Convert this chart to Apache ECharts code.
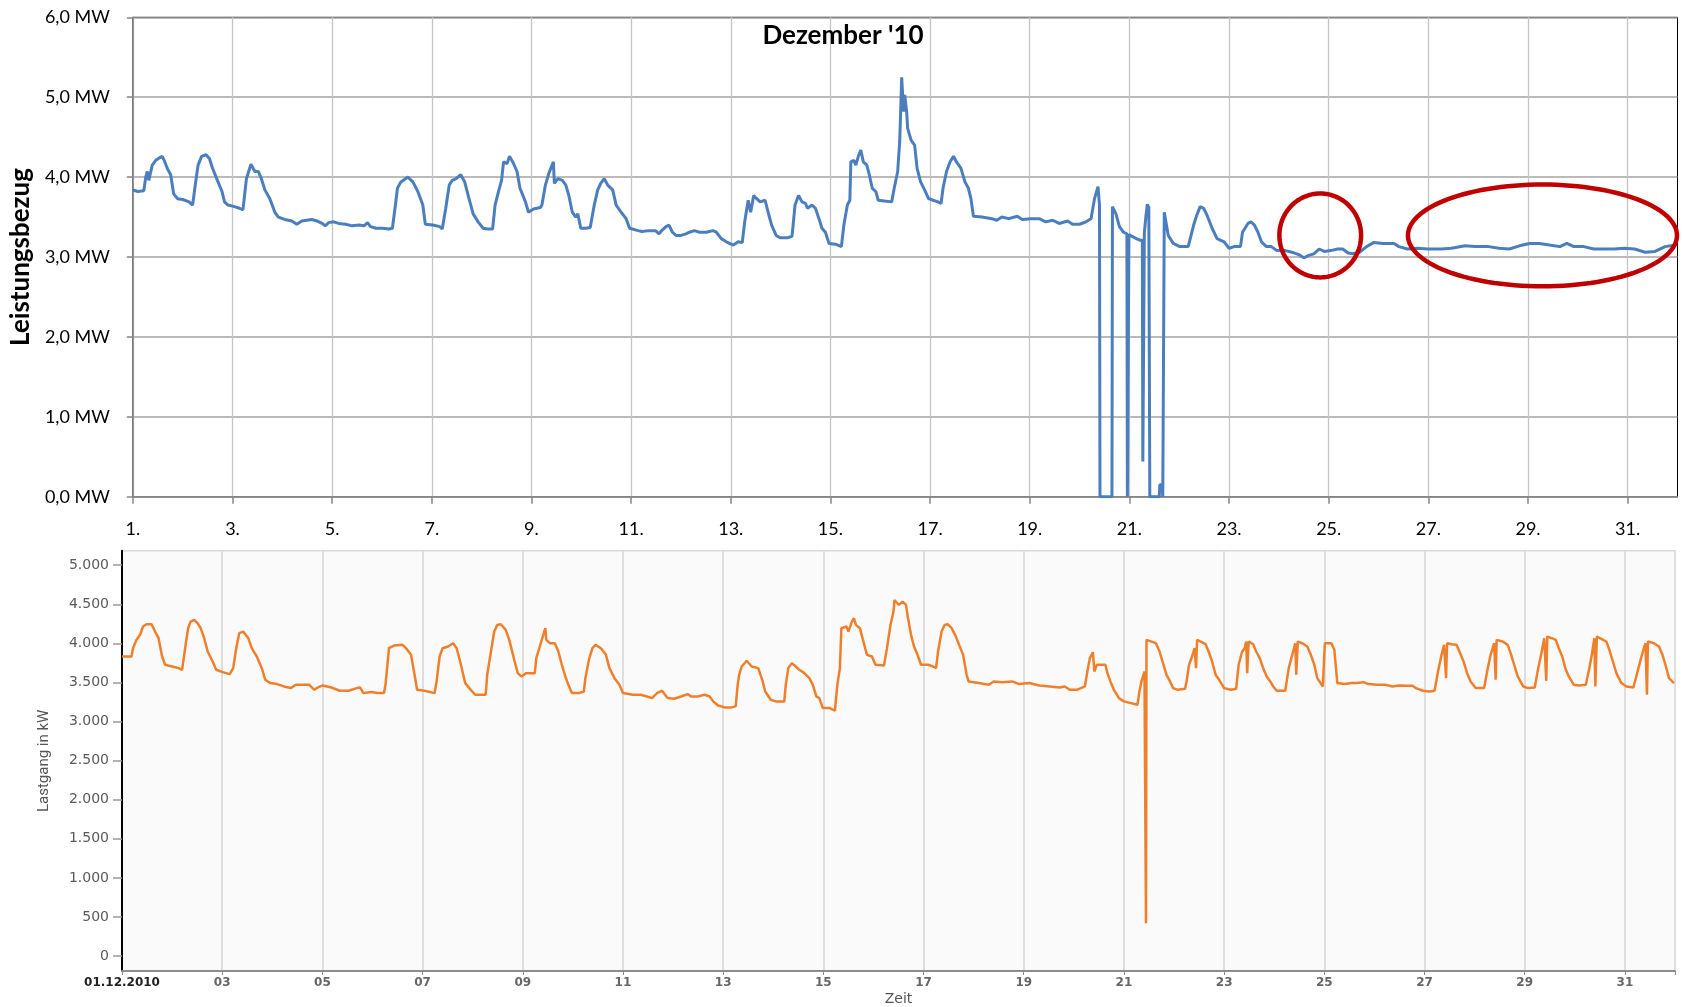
<!DOCTYPE html>
<html><head><meta charset="utf-8">
<script src="https://cdn.jsdelivr.net/npm/echarts@6/dist/echarts.min.js"></script>
<style>html,body{margin:0;padding:0;background:#fff}#c{width:1685px;height:1007px}</style>
</head><body><div id="c"></div>
<script>
// ---------- data ----------
const oddDays = [1,3,5,7,9,11,13,15,17,19,21,23,25,27,29,31];
const mwTicks = [0,1,2,3,4,5,6];
const kwTicks = [0,500,1000,1500,2000,2500,3000,3500,4000,4500,5000];

// Top chart: Leistungsbezug in MW, [day of December, MW]
const topLoadA = [[1.00,3.84],[1.10,3.82],[1.22,3.83],[1.26,4.00],[1.29,4.07],[1.32,3.96],[1.39,4.15],[1.46,4.21],[1.53,4.24],[1.59,4.26],[1.63,4.21],[1.69,4.11],[1.76,4.03],[1.82,3.79],[1.90,3.73],[2.00,3.72],[2.13,3.69],[2.20,3.65],
[2.27,3.98],[2.31,4.15],[2.38,4.26],[2.47,4.28],[2.54,4.23],[2.60,4.11],[2.71,3.94],[2.79,3.82],[2.84,3.69],[2.91,3.65],[3.04,3.63],[3.14,3.61],[3.21,3.59],
[3.28,3.98],[3.37,4.16],[3.45,4.07],[3.52,4.07],[3.58,3.98],[3.65,3.84],[3.75,3.73],[3.85,3.56],[3.92,3.50],[4.05,3.47],[4.19,3.45],[4.29,3.41],[4.39,3.45],[4.49,3.46],[4.59,3.47],[4.70,3.45],[4.80,3.42],[4.86,3.39],[4.93,3.43],[5.03,3.44],[5.13,3.42],[5.27,3.41],[5.40,3.39],[5.54,3.40],[5.64,3.39],[5.71,3.43],[5.77,3.38],[5.88,3.36],[6.01,3.36],[6.14,3.35],[6.21,3.36],
[6.27,3.65],[6.31,3.86],[6.38,3.94],[6.52,4.00],[6.62,3.94],[6.72,3.82],[6.82,3.65],[6.87,3.41],[7.02,3.40],[7.16,3.38],[7.21,3.35],
[7.28,3.61],[7.35,3.90],[7.41,3.96],[7.49,3.98],[7.58,4.03],[7.66,3.94],[7.73,3.77],[7.83,3.54],[7.93,3.44],[8.03,3.36],[8.13,3.35],[8.22,3.35],
[8.27,3.65],[8.34,3.82],[8.40,3.96],[8.44,4.19],[8.51,4.17],[8.56,4.26],[8.64,4.17],[8.71,4.07],[8.77,3.86],[8.88,3.69],[8.94,3.56],[9.04,3.60],[9.18,3.62],[9.21,3.65],
[9.28,3.90],[9.35,4.05],[9.44,4.19],[9.46,3.92],[9.53,3.98],[9.62,3.96],[9.69,3.90],[9.75,3.77],[9.82,3.56],[9.89,3.50],[9.93,3.54],[9.99,3.36],[10.09,3.36],[10.18,3.37],
[10.26,3.65],[10.33,3.84],[10.39,3.92],[10.46,3.98],[10.53,3.90],[10.63,3.84],[10.70,3.65],[10.80,3.56],[10.90,3.48],[10.97,3.36],[11.14,3.33]];
const topLoadB = [[11.22,3.32],[11.36,3.33],[11.49,3.33],[11.56,3.29],[11.63,3.34],[11.70,3.38],[11.76,3.40],[11.83,3.31],[11.90,3.27],[12.00,3.27],[12.10,3.29],[12.17,3.31],[12.27,3.33],[12.37,3.31],[12.51,3.31],[12.64,3.33],[12.71,3.31],[12.81,3.23],[12.91,3.19],[13.05,3.15],[13.15,3.19],[13.23,3.18],
[13.28,3.44],[13.35,3.71],[13.40,3.56],[13.46,3.77],[13.52,3.73],[13.59,3.69],[13.69,3.71],[13.75,3.56],[13.82,3.40],[13.91,3.27],[13.99,3.24],[14.13,3.24],[14.23,3.26],
[14.29,3.65],[14.36,3.77],[14.43,3.69],[14.50,3.67],[14.54,3.61],[14.63,3.65],[14.70,3.61],[14.77,3.48],[14.83,3.36],[14.90,3.31],[14.97,3.17],[15.10,3.16],[15.22,3.13],
[15.27,3.40],[15.34,3.65],[15.39,3.71],[15.41,4.19],[15.47,4.21],[15.51,4.15],[15.56,4.26],[15.61,4.34],[15.66,4.19],[15.73,4.15],[15.78,4.03],[15.84,3.86],[15.91,3.82],[15.96,3.71],[16.08,3.70],[16.23,3.69],
[16.28,3.86],[16.35,4.07],[16.39,4.44],[16.41,4.82],[16.43,5.25],[16.47,4.82],[16.49,5.03],[16.53,4.82],[16.55,4.61],[16.62,4.46],[16.69,4.40],[16.74,4.11],[16.81,3.94],[16.89,3.84],[16.97,3.73],[17.06,3.71],[17.16,3.69],[17.22,3.67],
[17.26,3.86],[17.33,4.07],[17.40,4.19],[17.47,4.26],[17.53,4.19],[17.62,4.11],[17.70,3.94],[17.77,3.86],[17.82,3.73],[17.87,3.51],[18.04,3.50],[18.24,3.48],[18.34,3.46],[18.44,3.50],[18.58,3.48],[18.75,3.51],[18.85,3.47],[19.02,3.48],[19.19,3.48],[19.32,3.44],[19.46,3.46],[19.59,3.42],[19.76,3.45],[19.86,3.41],[20.00,3.41],[20.13,3.44],[20.23,3.48],
[20.30,3.73],[20.37,3.88],[20.40,3.65]];
const topLoadC = [[20.41,0],[20.65,0],[20.66,3.63],[20.73,3.54],[20.80,3.38],[20.88,3.31],[20.95,3.29],[20.96,0],[20.98,0],[20.99,3.28],[21.03,3.27],[21.14,3.23],[21.21,3.21],[21.26,3.21],[21.27,0.44],[21.30,3.30],[21.33,3.50],[21.36,3.66],[21.39,3.62],[21.41,0],[21.60,0],[21.61,0.15],[21.66,0.15],[21.67,0],[21.68,1.17],[21.70,3.56]];
const topLoadD = [[21.78,3.27],[21.88,3.17],[22.01,3.13],[22.18,3.13],[22.29,3.40],[22.35,3.52],[22.42,3.63],[22.49,3.61],[22.56,3.52],[22.66,3.36],[22.76,3.23],[22.90,3.19],[23.00,3.11],[23.10,3.13],[23.23,3.13],
[23.27,3.31],[23.38,3.42],[23.44,3.44],[23.51,3.40],[23.58,3.31],[23.65,3.19],[23.75,3.13],[23.85,3.13],[23.96,3.08],[24.13,3.08],[24.26,3.06],[24.40,3.03],[24.50,2.99],[24.60,3.02],[24.70,3.04],[24.81,3.10],[24.91,3.07],[25.04,3.08],[25.18,3.10],[25.28,3.10],[25.39,3.05],[25.49,3.04],[25.62,3.06],[25.76,3.13],[25.90,3.18],[26.10,3.17],[26.31,3.17],[26.41,3.13],[26.58,3.10],[26.78,3.11],[26.99,3.10],[27.26,3.10],[27.46,3.11],[27.74,3.14],[27.94,3.13],[28.21,3.13],[28.42,3.11],[28.62,3.10],[28.83,3.14],[29.03,3.17],[29.23,3.17],[29.43,3.15],[29.64,3.13],[29.78,3.17],[29.92,3.13],[30.12,3.13],[30.32,3.10],[30.53,3.10],[30.73,3.10],[30.94,3.11],[31.14,3.10],[31.35,3.06],[31.55,3.07],[31.75,3.13],[31.96,3.15],[31.99,3.16]];

// Bottom chart: Lastgang in kW, [day of December, kW]
const bottomLoadA = [[1.00,3832],[1.19,3832],[1.22,3938],[1.29,4045],[1.36,4109],[1.42,4215],[1.49,4245],[1.59,4245],[1.66,4151],[1.73,4066],[1.80,3832],[1.86,3726],[2.00,3704],[2.13,3683],[2.20,3662],
[2.27,3981],[2.32,4194],[2.37,4279],[2.44,4300],[2.51,4257],[2.57,4194],[2.64,4066],[2.71,3896],[2.81,3768],[2.88,3662],[3.01,3632],[3.15,3606],[3.22,3683],
[3.28,3938],[3.34,4130],[3.42,4151],[3.52,4066],[3.59,3938],[3.69,3832],[3.79,3683],[3.86,3534],[3.96,3492],[4.10,3479],[4.23,3449],[4.37,3428],[4.47,3470],[4.60,3470],[4.74,3470],[4.84,3406],[4.91,3436],[5.01,3462],[5.18,3436],[5.35,3394],[5.52,3394],[5.69,3428],[5.75,3436],[5.82,3364],[5.99,3377],[6.09,3364],[6.23,3364],
[6.26,3470],[6.33,3938],[6.43,3972],[6.60,3981],[6.67,3938],[6.77,3853],[6.84,3598],[6.89,3406],[7.04,3394],[7.24,3364],
[7.28,3513],[7.34,3832],[7.40,3938],[7.51,3960],[7.61,4002],[7.68,3938],[7.75,3768],[7.85,3492],[7.99,3385],[8.05,3343],[8.26,3343],
[8.29,3598],[8.36,3874],[8.43,4151],[8.49,4236],[8.56,4245],[8.66,4172],[8.73,4045],[8.83,3789],[8.90,3619],[8.97,3577],[9.07,3619],[9.24,3619],
[9.27,3811],[9.34,3960],[9.41,4109],[9.45,4194],[9.47,4045],[9.54,4002],[9.64,4002],[9.71,3896],[9.78,3726],[9.85,3577],[9.91,3470],[9.98,3364],[10.12,3364],[10.22,3385],
[10.25,3555],[10.32,3789],[10.39,3938],[10.45,3981],[10.56,3938],[10.66,3853],[10.73,3683],[10.83,3555],[10.93,3470],[11.00,3364],[11.20,3343]];
const bottomLoadB = [[11.35,3343],[11.48,3321],[11.58,3300],[11.68,3364],[11.78,3394],[11.89,3300],[12.02,3292],[12.16,3321],[12.29,3351],[12.36,3321],[12.49,3321],[12.63,3343],[12.73,3321],[12.80,3258],[12.90,3206],[13.03,3181],[13.17,3181],[13.25,3194],
[13.29,3470],[13.32,3598],[13.37,3704],[13.47,3777],[13.57,3704],[13.70,3683],[13.78,3534],[13.84,3385],[13.95,3279],[14.05,3258],[14.22,3258],
[14.25,3470],[14.30,3683],[14.37,3747],[14.45,3704],[14.52,3662],[14.62,3619],[14.72,3555],[14.79,3470],[14.86,3321],[14.92,3300],[14.99,3172],[15.13,3172],[15.23,3138],
[15.28,3470],[15.33,3683],[15.36,4194],[15.46,4215],[15.50,4151],[15.57,4279],[15.61,4321],[15.65,4236],[15.73,4194],[15.80,4023],[15.87,3853],[15.97,3832],[16.04,3726],[16.21,3717],
[16.27,3938],[16.34,4236],[16.40,4406],[16.42,4555],[16.51,4491],[16.58,4534],[16.65,4491],[16.69,4321],[16.75,4109],[16.81,3960],[16.88,3853],[16.95,3726],[17.09,3726],[17.19,3704],[17.25,3683],
[17.29,3896],[17.36,4151],[17.42,4236],[17.48,4245],[17.56,4194],[17.63,4109],[17.71,3981],[17.79,3853],[17.86,3598],[17.90,3513],[18.10,3492],[18.30,3470],[18.40,3513],[18.57,3504],[18.77,3513],[18.91,3479],[19.11,3492],[19.31,3462],[19.52,3449],[19.72,3436],[19.82,3449],[19.92,3406],[20.06,3406],[20.22,3449],
[20.27,3640],[20.32,3811],[20.38,3887],[20.41,3640],[20.46,3726],[20.56,3726],[20.63,3726],[20.67,3619],[20.73,3513],[20.80,3406],[20.90,3300],[21.00,3258],[21.14,3236],[21.27,3215],
[21.31,3385],[21.35,3513],[21.41,3640],[21.43,3640],[21.44,420],[21.45,4045],[21.58,4015],[21.64,4002]];
const bottomLoadC = [[21.71,3896],[21.78,3747],[21.85,3598],[21.92,3513],[21.98,3428],[22.08,3406],[22.22,3419],[22.25,3513],
[22.30,3726],[22.36,3832],[22.41,3938],[22.44,3683],[22.46,4045],[22.53,4023],[22.63,3989],[22.69,3896],[22.76,3768],[22.83,3598],[22.90,3534],[23.00,3428],[23.14,3406],[23.24,3419],
[23.29,3726],[23.36,3896],[23.41,3938],[23.44,4023],[23.46,3619],[23.49,4023],[23.58,3989],[23.64,3896],[23.71,3811],[23.78,3683],[23.85,3577],[23.92,3513],[23.98,3449],[24.05,3394],[24.22,3394],
[24.29,3683],[24.36,3853],[24.42,4002],[24.44,3598],[24.47,4023],[24.56,4002],[24.66,3960],[24.73,3853],[24.80,3726],[24.86,3555],[24.97,3449],[25.00,3449],
[25.01,4002],[25.14,4002],[25.20,3917],[25.26,3492],[25.41,3479],[25.54,3492],[25.64,3492],[25.78,3504],[25.88,3479],[26.05,3470],[26.22,3470],[26.36,3449],[26.49,3462],[26.63,3457],[26.76,3457],[26.83,3428],[26.97,3394],[27.10,3385],[27.20,3394],
[27.27,3640],[27.34,3853],[27.39,3981],[27.43,3555],[27.45,4002],[27.54,3989],[27.64,3981],[27.71,3874],[27.78,3768],[27.85,3619],[27.92,3513],[28.02,3428],[28.19,3428],
[28.25,3640],[28.32,3853],[28.39,4002],[28.42,3534],[28.44,4045],[28.56,4023],[28.66,3981],[28.73,3853],[28.80,3704],[28.86,3577],[28.97,3449],[29.07,3428],[29.20,3436],
[29.27,3683],[29.34,3896],[29.39,4066],[29.43,3521],[29.45,4087],[29.54,4066],[29.62,4045],[29.68,3938],[29.75,3832],[29.81,3683],[29.88,3577],[29.98,3470],[30.08,3462],[30.22,3470],
[30.29,3683],[30.34,3853],[30.39,4066],[30.41,3449],[30.44,4087],[30.53,4057],[30.63,4023],[30.69,3917],[30.76,3768],[30.83,3619],[30.93,3492],[31.03,3449],[31.17,3436],
[31.27,3683],[31.34,3853],[31.41,4002],[31.44,3343],[31.46,4023],[31.58,4002],[31.68,3960],[31.75,3853],[31.81,3726],[31.88,3555],[31.98,3492]];

// Red annotation ellipses (in data units of the top chart)
const annotations = [
  {day: 24.83, mw: 3.27, halfDays: 0.82, halfMW: 0.525},
  {day: 29.29, mw: 3.27, halfDays: 2.70, halfMW: 0.637}
];

const topLoad = topLoadA.concat(topLoadB, topLoadC, topLoadD);
const bottomLoad = bottomLoadA.concat(bottomLoadB, bottomLoadC);

// ---------- chart ----------
const chart = echarts.init(document.getElementById('c'), null, {renderer: 'canvas'});
function kw(v){ return v >= 1000 ? Math.floor(v/1000) + '.' + String(v % 1000).padStart(3,'0') : String(v); }

const option = {
  animation: false,
  backgroundColor: '#ffffff',
  title: {
    text: "Dezember '10", left: 838, top: 18, textAlign: 'center',
    textStyle: {fontFamily: 'Lato', fontWeight: 'bold', fontSize: 26, color: '#000'}
  },
  grid: [
    {left: 123.7, top: 17.3, width: 1553.8, height: 479.4, show: true, borderColor: '#000', borderWidth: 1, backgroundColor: '#fff', containLabel: false},
    {left: 122, top: 550.7, width: 1553, height: 421, show: true, borderColor: '#d9d9d9', borderWidth: 1.5, backgroundColor: '#fafafa', containLabel: false}
  ],
  xAxis: [
    {type: 'value', gridIndex: 0, min: 1, max: 32, interval: 1,
     axisLine: {show: true, onZero: false, lineStyle: {color: '#868686', width: 1.5}},
     axisTick: {show: true, customValues: oddDays, length: 7, lineStyle: {color: '#868686', width: 1.5}},
     axisLabel: {customValues: oddDays, formatter: v => v + '.', margin: 23, fontFamily: 'Lato', fontSize: 18, color: '#000'},
     splitLine: {show: true, lineStyle: {color: '#c4c4c4', width: 1.3}}},
    {type: 'value', gridIndex: 1, min: 1, max: 32, interval: 2,
     name: 'Zeit', nameLocation: 'middle', nameGap: 21,
     nameTextStyle: {fontFamily: 'DejaVu Sans', fontSize: 14, color: '#555'},
     axisLine: {show: true, onZero: false, lineStyle: {color: '#8c8c8c', width: 2}},
     axisTick: {show: true, length: 4, lineStyle: {color: '#8c8c8c', width: 1}},
     axisLabel: {margin: 6, fontFamily: 'DejaVu Sans', fontSize: 12, fontWeight: 'bold', color: '#666',
       formatter: v => v === 1 ? '{b|01.12.2010}' : (v <= 31 ? String(v).padStart(2, '0') : ''),
       rich: {b: {fontFamily: 'DejaVu Sans', fontSize: 12, fontWeight: 'bold', color: '#222'}}},
     splitLine: {show: true, lineStyle: {color: '#dedede', width: 2}}}
  ],
  yAxis: [
    {type: 'value', gridIndex: 0, min: 0, max: 6, interval: 1,
     name: 'Leistungsbezug', nameLocation: 'middle', nameGap: 90,
     nameTextStyle: {fontFamily: 'Lato', fontWeight: 'bold', fontSize: 26, color: '#000'},
     axisLine: {show: true, lineStyle: {color: '#868686', width: 1.5}},
     axisTick: {show: true, length: 6, lineStyle: {color: '#868686', width: 1.5}},
     axisLabel: {margin: 23, fontFamily: 'Lato', fontSize: 18, color: '#000',
       formatter: v => v.toFixed(1).replace('.', ',') + ' MW'},
     splitLine: {show: true, lineStyle: {color: '#a3a3a3', width: 1.5}}},
    {type: 'value', gridIndex: 1, min: -190, max: 5185,
     name: 'Lastgang in kW', nameLocation: 'middle', nameGap: 70,
     nameTextStyle: {fontFamily: 'Roboto', fontSize: 15, color: '#555'},
     axisLine: {show: true, lineStyle: {color: '#000', width: 2}},
     axisTick: {show: true, customValues: kwTicks, length: 9, lineStyle: {color: '#999', width: 1.5}},
     axisLabel: {customValues: kwTicks, margin: 13, fontFamily: 'DejaVu Sans', fontSize: 14, color: '#5a5a5a', formatter: v => kw(v)},
     splitLine: {show: false}}
  ],
  series: [
    {name: 'Leistungsbezug', type: 'line', xAxisIndex: 0, yAxisIndex: 0, data: topLoad,
     symbol: 'none', lineStyle: {color: '#4a7ebf', width: 3}, z: 5},
    {name: 'Lastgang', type: 'line', xAxisIndex: 1, yAxisIndex: 1, data: bottomLoad,
     symbol: 'none', lineStyle: {color: '#f07f2c', width: 2.5}, z: 5}
  ]
};
chart.setOption(option);

// ellipses placed through the chart's own coordinate system
const graphics = annotations.map(a => {
  const c = chart.convertToPixel({gridIndex: 0}, [a.day, a.mw]);
  const e = chart.convertToPixel({gridIndex: 0}, [a.day + a.halfDays, a.mw + a.halfMW]);
  const rx = Math.abs(e[0] - c[0]), ry = Math.abs(c[1] - e[1]);
  const pts = [];
  for (let i = 0; i < 120; i++) {
    const t = i / 120 * Math.PI * 2;
    pts.push([c[0] + rx * Math.cos(t), c[1] + ry * Math.sin(t)]);
  }
  return {type: 'polygon', shape: {points: pts}, style: {fill: 'none', stroke: '#c00000', lineWidth: 4.5}, z: 100};
});
chart.setOption({graphic: graphics});
</script>
</body></html>
